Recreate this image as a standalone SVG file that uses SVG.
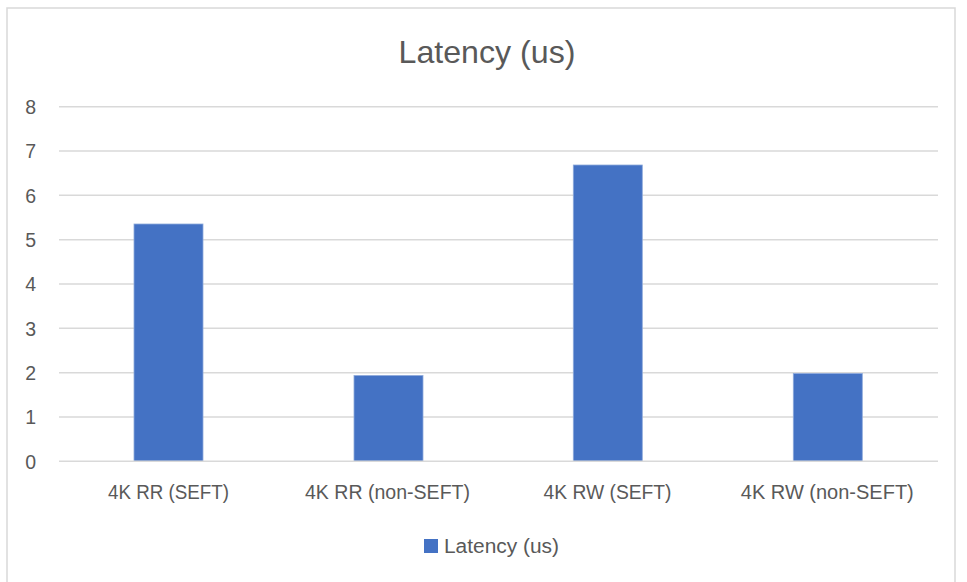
<svg xmlns="http://www.w3.org/2000/svg" width="967" height="582" viewBox="0 0 967 582">
  <style>
    .txt { font-family: "Liberation Sans", Arial, sans-serif; fill: #595959; }
    .tick { font-size: 19.5px; text-anchor: end; }
    .cat { font-size: 19.5px; text-anchor: middle; }
    .grid { stroke: #d9d9d9; stroke-width: 1.5; }
    .bar { fill: #4472c4; stroke: #8eaadb; stroke-width: 0.8; }
  </style>
  <rect width="967" height="582" fill="#ffffff"/>
  <!-- chart area frame -->
  <rect x="7" y="8" width="948" height="590" fill="none" stroke="#d9d9d9" stroke-width="1.5"/>

  <!-- title -->
  <text class="txt" x="487" y="63" font-size="32" text-anchor="middle" textLength="177" lengthAdjust="spacingAndGlyphs">Latency (us)</text>

  <!-- value gridlines -->
  <g id="gridlines">
    <line class="grid" x1="59" y1="106.7" x2="938" y2="106.7"/>
    <line class="grid" x1="59" y1="151" x2="938" y2="151"/>
    <line class="grid" x1="59" y1="195.3" x2="938" y2="195.3"/>
    <line class="grid" x1="59" y1="239.7" x2="938" y2="239.7"/>
    <line class="grid" x1="59" y1="284" x2="938" y2="284"/>
    <line class="grid" x1="59" y1="328.3" x2="938" y2="328.3"/>
    <line class="grid" x1="59" y1="372.7" x2="938" y2="372.7"/>
    <line class="grid" x1="59" y1="417" x2="938" y2="417"/>
  </g>

  <!-- y-axis labels -->
  <g id="y-axis" class="txt">
    <text class="tick" x="36" y="114">8</text>
    <text class="tick" x="36" y="158.3">7</text>
    <text class="tick" x="36" y="202.6">6</text>
    <text class="tick" x="36" y="247">5</text>
    <text class="tick" x="36" y="291.3">4</text>
    <text class="tick" x="36" y="335.6">3</text>
    <text class="tick" x="36" y="380">2</text>
    <text class="tick" x="36" y="424.3">1</text>
    <text class="tick" x="36" y="468.6">0</text>
  </g>

  <!-- bars -->
  <g id="bar-rr-seft"><rect class="bar" x="134" y="224" width="69" height="237.3"/></g>
  <g id="bar-rr-nonseft"><rect class="bar" x="354" y="375.5" width="69" height="85.8"/></g>
  <g id="bar-rw-seft"><rect class="bar" x="573.3" y="165" width="69" height="296.3"/></g>
  <g id="bar-rw-nonseft"><rect class="bar" x="793.3" y="373.5" width="69" height="87.8"/></g>

  <!-- category axis -->
  <line class="grid" x1="59" y1="461.3" x2="938" y2="461.3"/>
  <g id="x-axis" class="txt">
    <text class="cat" x="168.5" y="499" textLength="121" lengthAdjust="spacingAndGlyphs">4K RR (SEFT)</text>
    <text class="cat" x="387.5" y="499" textLength="165" lengthAdjust="spacingAndGlyphs">4K RR (non-SEFT)</text>
    <text class="cat" x="607.5" y="499" textLength="128" lengthAdjust="spacingAndGlyphs">4K RW (SEFT)</text>
    <text class="cat" x="827.3" y="499" textLength="173" lengthAdjust="spacingAndGlyphs">4K RW (non-SEFT)</text>
  </g>

  <!-- legend -->
  <g id="legend">
    <rect x="424" y="539" width="14" height="14" fill="#4472c4"/>
    <text class="txt" x="444" y="552.7" font-size="20" textLength="115" lengthAdjust="spacingAndGlyphs">Latency (us)</text>
  </g>
</svg>
